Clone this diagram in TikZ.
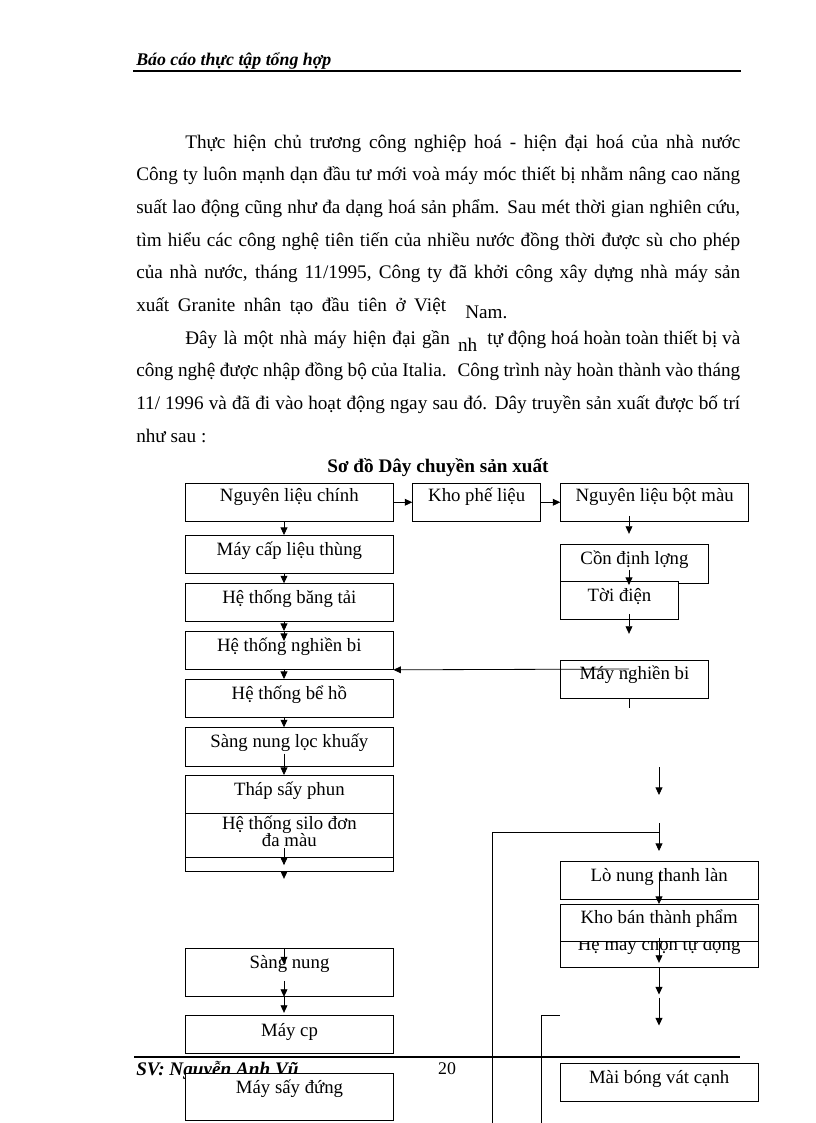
\documentclass[tikz,border=0pt]{standalone}
\usepackage{fontspec}
\setmainfont{Liberation Serif}
\usetikzlibrary{arrows.meta,calc}

\tikzset{
  stagebox/.style={draw, fill=white, line width=0.6pt, inner sep=0pt, font=\fontsize{13.7}{12.5}\selectfont},
  flow/.style={line width=0.6pt, -{Triangle[length=5.5pt,width=5pt]}},
  bodytext/.style={inner sep=0pt, anchor=base west, font=\fontsize{14}{16}\selectfont},
}

% box from (x1,y1) to (x2,y2) in page pixels, text baseline at given y
\newcommand{\flowbox}[8][]{%
  \pgfmathsetmacro\bxw{(#5-#3)*0.7295}%
  \pgfmathsetmacro\bxh{(#7-#4)*0.7295}%
  \pgfmathsetmacro\bxd{(#6-#7)*0.7295}%
  \node[stagebox, minimum width=\bxw pt, text height=\bxh pt, text depth=\bxd pt, anchor=north, #1] (#2) at ({(#3+#5)/2},#4) {#8};
}

\begin{document}
\begin{tikzpicture}[x=0.7295pt, y=-0.7295pt]
        \useasboundingbox (0,0) rectangle (816,1123);
        \fill[white] (0,0) rectangle (816,1123);

        % Page header
        \node[anchor=base west, inner sep=0pt, font=\fontsize{13}{16}\selectfont\bfseries\itshape] (head) at (136,65) {Báo cáo thực tập tổng hợp};
        \draw[line width=1.5pt] (133,71) -- (741,71);

        % Text above the diagram
        \node[bodytext] (l1) at (185,148) {\makebox[404.9pt][s]{Thực hiện chủ trương công nghiệp hoá - hiện đại hoá của nhà nước}};
        \node[bodytext] (l2) at (136,180.7) {\makebox[440.6pt][s]{Công ty luôn mạnh dạn đầu tư mới voà máy móc thiết bị nhằm nâng cao năng}};
        \node[bodytext] (l3) at (136,213.4) {\makebox[440.6pt][s]{suất lao động cũng như đa dạng hoá sản phẩm. Sau mét thời gian nghiên cứu,}};
        \node[bodytext] (l4) at (136,246.1) {\makebox[440.6pt][s]{tìm hiểu các công nghệ tiên tiến của nhiều nước đồng thời được sù cho phép}};
        \node[bodytext] (l5) at (136,278.8) {\makebox[440.6pt][s]{của nhà nước, tháng 11/1995, Công ty đã khởi công xây dựng nhà máy sản}};
        \node[bodytext] (l6) at (136,311.5) {\makebox[226pt][s]{xuất Granite nhân tạo đầu tiên ở Việt}\hspace{14pt}\lower5pt\hbox{\rmfamily Nam.}};
        \node[bodytext] (l7) at (185,344.2) {\hbox to 404.9pt{\makebox[193pt][s]{Đây là một nhà máy hiện đại gần}\hspace{6pt}\lower5pt\hbox{\rmfamily nh}\hspace{7pt}\hfill tự động hoá hoàn toàn thiết bị và}};
        \node[bodytext] (l8) at (136,376.9) {\makebox[440.6pt][s]{công nghệ được nhập đồng bộ của Italia. \ Công trình này hoàn thành vào tháng}};
        \node[bodytext] (l9) at (136,409.6) {\makebox[440.6pt][s]{11/ 1996 và đã đi vào hoạt động ngay sau đó. Dây truyền sản xuất được bố trí}};
        \node[bodytext] (l10) at (136,442.3) {như sau :};

        % Title
        \node[anchor=base, inner sep=0pt, font=\fontsize{14}{16}\selectfont\bfseries] (title) at (438,472) {Sơ đồ Dây chuyền sản xuất};

        % Page footer
        \draw[line width=1.5pt] (134,1057) -- (740,1057);
        \node[anchor=base west, inner sep=0pt, font=\fontsize{14}{16}\selectfont\bfseries\itshape] (sv) at (136,1075) {SV: Nguyễn Anh Vũ};
        \node[anchor=base, inner sep=0pt, font=\fontsize{13}{16}\selectfont] (pageno) at (447,1074) {20};

        % Top row
        \flowbox{nlc}{185.7}{482.7}{393}{521}{501}{Nguyên liệu chính}
        \flowbox{kpl}{412.7}{482.7}{540.7}{521}{501}{Kho phế liệu}
        \flowbox{nlbm}{560.7}{482.7}{748.7}{521}{501}{Nguyên liệu bột màu}

        % Left column
        \flowbox{mcl}{185.7}{535}{393}{573.3}{555}{Máy cấp liệu thùng}
        \flowbox{htbt}{185.7}{583.3}{393}{621}{603}{Hệ thống băng tải}
        \flowbox{htnb}{185.7}{631}{393}{669}{651}{Hệ thống nghiền bi}
        \flowbox{htbh}{185.7}{679}{393}{717.3}{699}{Hệ thống bể hồ}
        \flowbox{snlk}{185.7}{727.3}{393}{765.7}{747}{Sàng nung lọc khuấy}
        \flowbox{tsp}{185.7}{775}{393}{812.7}{795}{Tháp sấy phun}
        \flowbox[align=center]{silo}{185.7}{812.7}{393}{857.3}{846}{Hệ thống silo đơn\\đa màu}
        \flowbox{blank}{185.7}{857.3}{393}{871}{866}{}
        \flowbox{sn}{185.7}{948.3}{393.3}{996}{968}{Sàng nung}
        \flowbox{mcp}{185.7}{1015}{393.3}{1052.7}{1036}{Máy cp}
        \flowbox{msd}{185.7}{1072.7}{393.3}{1120}{1093}{Máy sấy đứng}

        % Right column
        \flowbox{cdl}{560.7}{544}{708.3}{583.3}{564}{Cồn định lợng}
        \flowbox{tdien}{560.7}{581}{678.3}{619}{601}{Tời điện}
        \flowbox{mnb}{560.7}{660}{708.3}{698.3}{679}{Máy nghiền bi}
        \flowbox{lnt}{560}{861}{758.3}{899}{881}{Lò nung thanh làn}
        \flowbox{hmc}{560}{927}{758.3}{966.7}{950}{Hệ máy chọn tự động}
        \flowbox{kbtp}{560}{904}{758.3}{941}{923}{Kho bán thành phẩm}
        \flowbox{mbvc}{560}{1063.3}{758.3}{1101}{1083}{Mài bóng vát cạnh}

        % Arrows, top row
        \draw[flow] (nlc.east) -- (kpl.west);
        \draw[flow] (kpl.east) -- (nlbm.west);

        % Arrows, left column
        \coordinate (colL) at (284,0);
        \draw[flow] (nlc.south -| colL) -- (mcl.north -| colL);
        \draw[flow] (mcl.south -| colL) -- (htbt.north -| colL);
        \draw[flow] (htbt.south -| colL) -- (htnb.north -| colL);
        \draw[flow] (htnb.north -| colL) -- ++(0,10);
        \draw[flow] (htnb.south -| colL) -- (htbh.north -| colL);
        \draw[flow] (htbh.south -| colL) -- (snlk.north -| colL);
        \draw[flow] ($(snlk.south -| colL)+(0,-13)$) -- (tsp.north -| colL);
        \draw[flow] ($(silo.south -| colL)+(0,-10)$) -- ++(0,17);
        \draw[flow] (blank.south -| colL) -- ++(0,7);
        \draw[flow] (sn.north -| colL) -- ++(0,16);
        \draw[flow] ($(sn.south -| colL)+(0,-16)$) -- (sn.south -| colL);
        \draw[flow] (sn.south -| colL) -- ++(0,16);

        % Arrows, right column
        \coordinate (colR) at (629,0);
        \draw[flow] ($(nlbm.south -| colR)+(0,-6)$) -- ++(0,18);
        \draw[flow] ($(cdl.north -| colR)+(0,26)$) -- ++(0,15);
        \draw[flow] ($(tdien.south -| colR)+(0,-6)$) -- ++(0,20);
        \draw[flow] ($(mnb.north -| colR)+(0,9)$) -- (htnb.south east);
        \draw[line width=0.6pt] (mnb.south -| colR) -- ++(0,9);

        % Feed line and return loop
        \coordinate (colM) at (659,0);
        \coordinate (k1) at (659,767);
        \coordinate (k2) at (659,823);
        \coordinate (loop) at (492,832);
        \draw[flow] (k1) -- ++(0,28);
        \draw[flow] (k2) -- ++(0,28);
        \draw[line width=0.6pt] (k2 |- loop) -- (loop) -- ++(0,291);

        % Arrows, lower right
        \draw[flow] ($(lnt.north -| colM)+(0,12)$) -- (kbtp.north -| colM);
        \draw[flow] ($(kbtp.south -| colM)+(0,-4)$) -- ++(0,25);
        \draw[flow] (hmc.south -| colM) -- ++(0,27);
        \draw[flow] ($(hmc.south -| colM)+(0,30)$) -- ++(0,28);
        \coordinate (bend) at (541,1015);
        \draw[line width=0.6pt] (bend -| mbvc.west) -- (bend) -- ++(0,108);
    \end{tikzpicture}
\end{document}
